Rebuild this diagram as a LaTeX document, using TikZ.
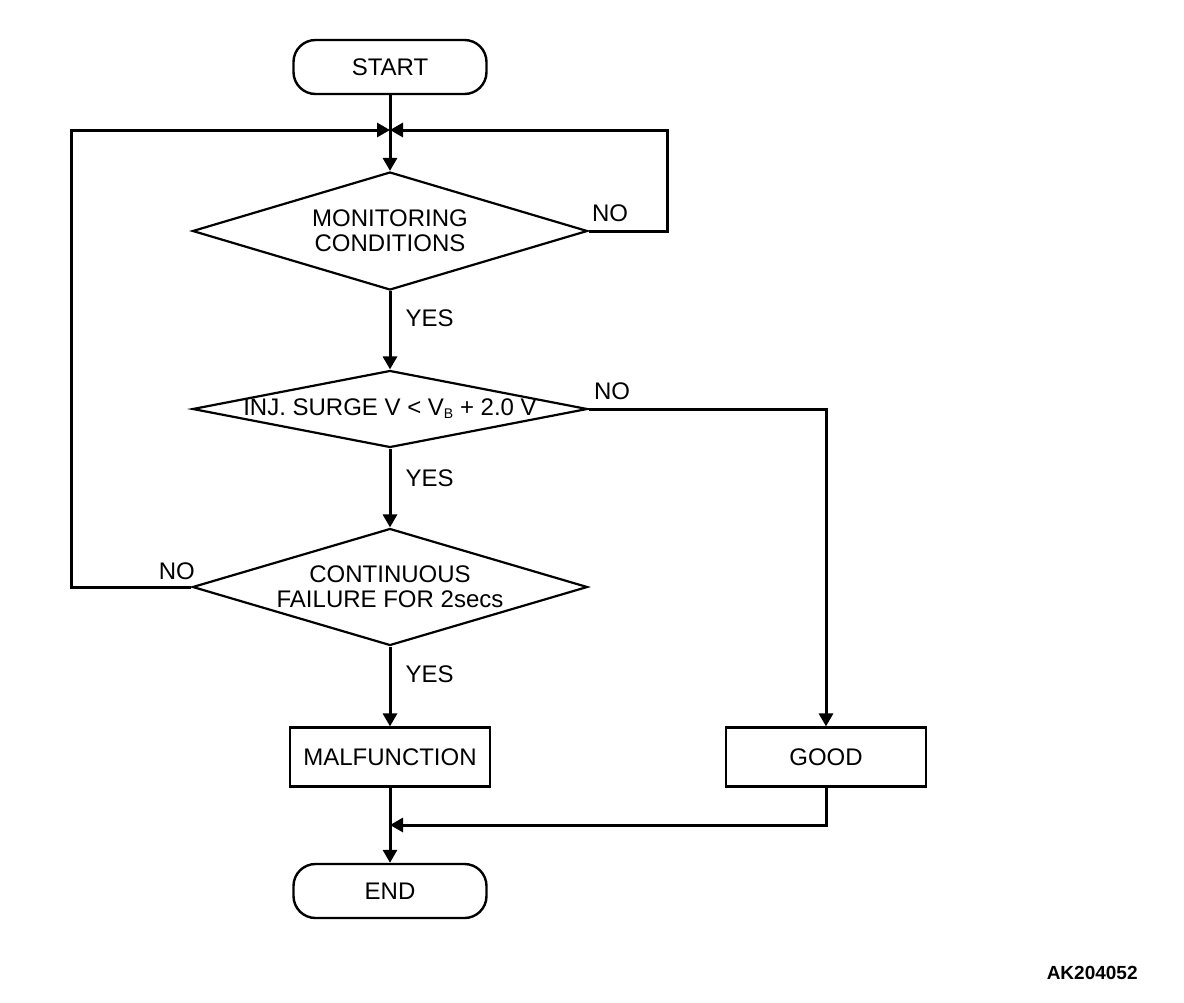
\documentclass[tikz,border=0pt]{standalone}
\usepackage{fontspec}
\setmainfont{Liberation Sans}
\usetikzlibrary{shapes.geometric,arrows.meta}

\begin{document}
\begin{tikzpicture}[x=0.5pt, y=-0.5pt,
        every node/.style={font=\fontsize{12}{12.5}\selectfont},
        terminal/.style={draw, line width=1.2pt, rounded corners=11pt, minimum width=96.5pt, minimum height=27pt},
        process/.style={draw, line width=1.1pt, minimum width=100pt, minimum height=29.5pt},
        decision/.style={diamond, draw, line width=1.1pt, inner sep=0pt, aspect=3.35, minimum width=197.5pt, align=center},
        flow/.style={line width=1.5pt, -{Triangle[length=6.5pt, width=7pt]}},
        answer/.style={inner sep=0pt}]
    \useasboundingbox (0,0) rectangle (1184,1002);

    \node[terminal] (start) at (390,67) {START};
    \node[decision, minimum height=59pt] (monitor) at (390,231) {MONITORING\\CONDITIONS};
    \node[decision, minimum height=38.5pt] (surge) at (390,409)
        {\makebox[0pt]{INJ. SURGE V < V\raisebox{-.25ex}{\scriptsize B} + 2.0 V}};
    \node[decision, minimum height=58.5pt] (cont) at (390,587) {CONTINUOUS\\FAILURE FOR 2secs};
    \node[process] (malf) at (390,757) {MALFUNCTION};
    \node[process] (good) at (826,757) {GOOD};
    \node[terminal] (end) at (390,891) {END};
    \node[font=\bfseries\fontsize{9.5}{10}\selectfont, inner sep=0pt, anchor=east] (code) at (1138,973) {AK204052};

    \coordinate (merge) at (390,130);
    \coordinate (join) at (390,825);

    \draw[flow] (start) -- (monitor);
    \draw[flow] (monitor.east) node[answer, anchor=south west, xshift=1pt, yshift=4pt]{NO}
        -- ++(79,0) |- (merge);
    \draw[flow] (monitor) -- node[answer, pos=.35, right=7pt]{YES} (surge);
    \draw[flow] (surge.east) node[answer, anchor=south west, xshift=2pt, yshift=4pt]{NO}
        -| (good);
    \draw[flow] (surge) -- node[answer, pos=.37, right=7pt]{YES} (cont);
    \draw[flow] (cont.west) node[answer, anchor=south east, xshift=2.5pt, yshift=3pt]{NO}
        -- ++(-120,0) |- (merge);
    \draw[flow] (cont) -- node[answer, pos=.35, right=7pt]{YES} (malf);
    \draw[flow] (malf) -- (end);
    \draw[flow] (good) |- (join);
\end{tikzpicture}
\end{document}
